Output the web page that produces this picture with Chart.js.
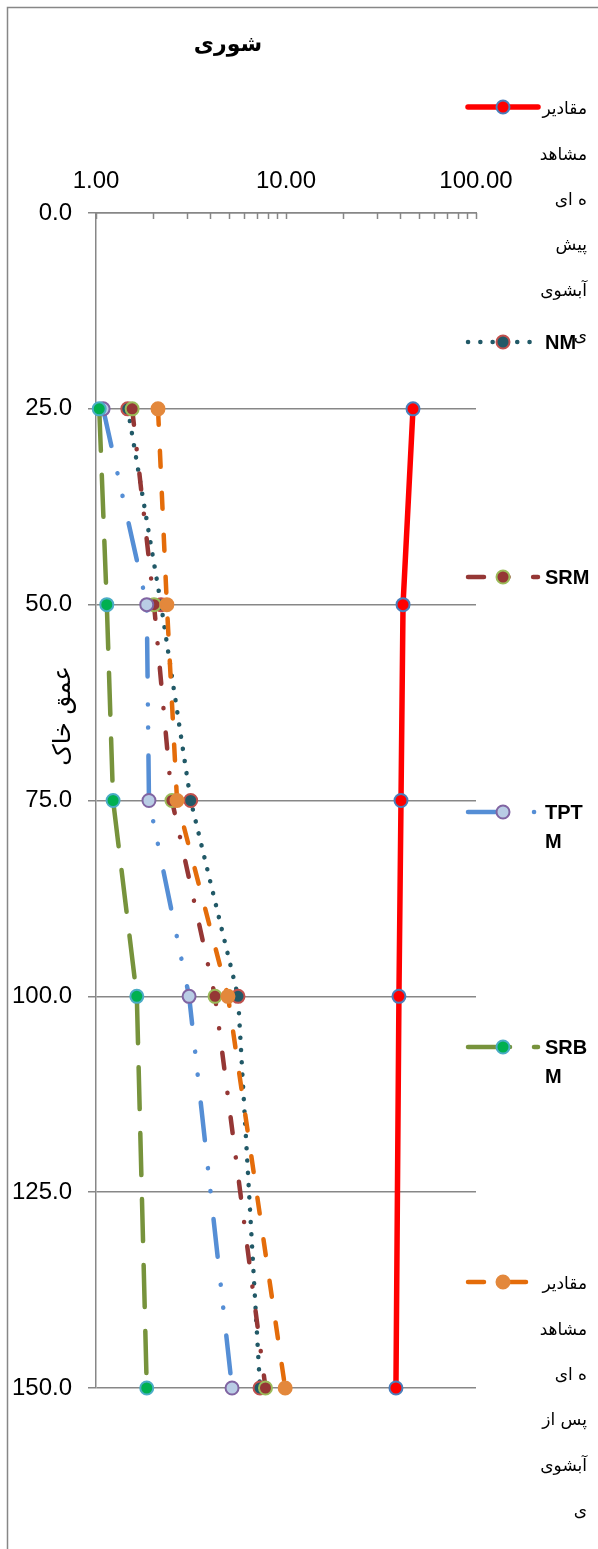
<!DOCTYPE html>
<html>
<head>
<meta charset="utf-8">
<script src="https://cdn.jsdelivr.net/npm/chart.js@4.4.0/dist/chart.umd.min.js"></script>
<style>
  html, body { margin: 0; padding: 0; background: #fff; }
  canvas { display: block; }
</style>
</head>
<body>
<canvas id="chart" width="598" height="1549"></canvas>
<script>
// soil depth (vertical axis)
const depths = [25, 50, 75, 100, 150];

// salinity per series
const preLeaching = [46.6, 41.3, 40.3, 39.3, 37.9];
const nmValues = [1.47, 2.2, 3.15, 5.59, 7.3];
const srmValues = [1.55, 2.02, 2.51, 4.23, 7.8];
const tptmValues = [1.09, 1.85, 1.9, 3.09, 5.2];
const srbmValues = [1.04, 1.14, 1.23, 1.64, 1.85];
const postLeaching = [2.12, 2.36, 2.67, 4.95, 9.9];

const seriesLabels = [
    'مقادیر مشاهده ای پیش آبشویی', 'NM', 'SRM', 'TPTM', 'SRBM',
    'مقادیر مشاهده ای پس از آبشویی'
];
// legend text as it wraps in the original
const legendLines = [
    ['مقادیر', 'مشاهد', 'ه ای', 'پیش', 'آبشوی', 'ی'],
    ['NM'],
    ['SRM'],
    ['TPT', 'M'],
    ['SRB', 'M'],
    ['مقادیر', 'مشاهد', 'ه ای', 'پس از', 'آبشوی', 'ی']
];
const xTickLabels = [1, 10, 100];
const chartTitle = 'شوری';
const yTitle = 'عمق خاک';

const axisGray = '#878787';
const persianFont = '"DejaVu Sans", "Liberation Sans", sans-serif';

function points(values) {
    return values.map((v, i) => ({ x: v, y: depths[i] }));
}

function series(i, values, style) {
    return Object.assign({
        label: seriesLabels[i],
        data: points(values),
        borderWidth: 4.5,
        borderCapStyle: 'round',
        borderJoinStyle: 'round',
        pointRadius: 6.5,
        pointBorderWidth: 2,
        tension: 0,
        clip: false,
        order: -i
    }, style);
}

const datasets = [
    series(0, preLeaching, {
        borderColor: '#FF0000', borderWidth: 5.5, borderDash: [],
        pointBackgroundColor: '#FF0000', pointBorderColor: '#4A7EBB'
    }),
    series(1, nmValues, {
        borderColor: '#215967', borderDash: [0.1, 12.2],
        pointBackgroundColor: '#215967', pointBorderColor: '#C0504D'
    }),
    series(2, srmValues, {
        borderColor: '#953735', borderDash: [16, 24.5, 0.1, 24.5],
        pointBackgroundColor: '#953735', pointBorderColor: '#9BBB59'
    }),
    series(3, tptmValues, {
        borderColor: '#558ED5', borderDash: [38, 28, 0.1, 23, 0.1, 28],
        pointBackgroundColor: '#B9CDE5', pointBorderColor: '#8064A2'
    }),
    series(4, srbmValues, {
        borderColor: '#77933C', borderDash: [42, 24],
        pointBackgroundColor: '#00B050', pointBorderColor: '#4BACC6'
    }),
    series(5, postLeaching, {
        borderColor: '#E46C0A', borderDash: [16, 26],
        pointBackgroundColor: '#E3883C', pointBorderColor: '#E3883C'
    })
];

// --- plugins: frame, titles, inner minor ticks, side legend ---
const framePlugin = {
    id: 'frame',
    beforeDraw(chart) {
        const ctx = chart.ctx;
        ctx.save();
        ctx.fillStyle = '#fff';
        ctx.fillRect(0, 0, chart.width, chart.height);
        ctx.strokeStyle = axisGray;
        ctx.lineWidth = 1.5;
        ctx.strokeRect(7.5, 7.5, chart.width + 40, chart.height + 40);
        ctx.restore();
    }
};

const minorTicksPlugin = {
    id: 'minorTicks',
    afterDatasetsDraw(chart) {
        const ctx = chart.ctx;
        const x = chart.scales.x;
        ctx.save();
        ctx.strokeStyle = axisGray;
        ctx.lineWidth = 1.5;
        x.ticks.forEach(t => {
            const px = Math.round(x.getPixelForValue(t.value)) + 0.5;
            ctx.beginPath();
            ctx.moveTo(px, x.bottom);
            ctx.lineTo(px, x.bottom + 6);
            ctx.stroke();
        });
        ctx.restore();
    }
};

const titlesPlugin = {
    id: 'titles',
    afterDraw(chart) {
        const ctx = chart.ctx;
        ctx.save();
        ctx.fillStyle = '#000';
        ctx.textAlign = 'center';
        ctx.textBaseline = 'middle';
        ctx.font = 'bold 22px ' + persianFont;
        ctx.fillText(chartTitle, 228, 45);
        ctx.translate(64, 716);
        ctx.rotate(-Math.PI / 2);
        ctx.font = '24px ' + persianFont;
        ctx.fillText(yTitle, 0, 0);
        ctx.restore();
    }
};

const sideLegendPlugin = {
    id: 'sideLegend',
    afterDraw(chart) {
        const ctx = chart.ctx;
        const top = 107, step = 235;
        chart.data.datasets.forEach((ds, i) => {
            const y = top + i * step;
            ctx.save();
            ctx.strokeStyle = ds.borderColor;
            ctx.lineWidth = ds.borderWidth;
            ctx.lineCap = ds.borderCapStyle;
            ctx.setLineDash(ds.borderDash || []);
            ctx.beginPath();
            ctx.moveTo(468, y);
            ctx.lineTo(538, y);
            ctx.stroke();
            ctx.setLineDash([]);
            ctx.beginPath();
            ctx.arc(503, y, ds.pointRadius, 0, Math.PI * 2);
            ctx.fillStyle = ds.pointBackgroundColor;
            ctx.fill();
            ctx.lineWidth = ds.pointBorderWidth;
            ctx.strokeStyle = ds.pointBorderColor;
            ctx.stroke();

            const lines = legendLines[i];
            const latin = /^[A-Za-z]/.test(lines[0]);
            ctx.fillStyle = '#000';
            ctx.textBaseline = 'middle';
            if (latin) {
                ctx.font = 'bold 20px "Liberation Sans", sans-serif';
                ctx.textAlign = 'left';
                lines.forEach((l, k) => ctx.fillText(l, 545, y + 1 + k * 29));
            } else {
                ctx.font = '17px ' + persianFont;
                ctx.textAlign = 'right';
                lines.forEach((l, k) => ctx.fillText(l, 587, y + 3 + k * 45.3));
            }
            ctx.restore();
        });
    }
};

new Chart(document.getElementById('chart'), {
    type: 'line',
    data: { datasets: datasets },
    plugins: [framePlugin, minorTicksPlugin, titlesPlugin, sideLegendPlugin],
    options: {
        responsive: false,
        animation: false,
        devicePixelRatio: 1,
        layout: { padding: { left: 0, top: 0, right: 122, bottom: 161 } },
        plugins: {
            legend: { display: false },
            title: { display: false },
            tooltip: { enabled: false }
        },
        scales: {
            x: {
                type: 'logarithmic',
                position: 'top',
                min: 1,
                max: 100,
                afterFit: s => { s.height = 213; },
                afterBuildTicks: s => {
                    const ticks = [];
                    for (let d = 1; d < 100; d *= 10) {
                        for (let m = 1; m < 10; m++) ticks.push({ value: m * d });
                    }
                    ticks.push({ value: 100 });
                    s.ticks = ticks;
                },
                grid: { display: true, drawOnChartArea: false, drawTicks: false },
                border: { display: true, color: axisGray, width: 1.5 },
                ticks: {
                    autoSkip: false,
                    maxRotation: 0,
                    padding: 17,
                    color: '#000',
                    font: { family: '"Liberation Sans", sans-serif', size: 24 },
                    callback: v => xTickLabels.some(t => Math.abs(t - v) < 1e-9) ? Number(v).toFixed(2) : ''
                }
            },
            y: {
                type: 'linear',
                reverse: true,
                min: 0,
                max: 150,
                afterFit: s => { s.width = 96; },
                grid: { color: axisGray, lineWidth: 1.5, tickLength: 8 },
                border: { display: true, color: axisGray, width: 1.5 },
                ticks: {
                    stepSize: 25,
                    padding: 16,
                    color: '#000',
                    font: { family: '"Liberation Sans", sans-serif', size: 24 },
                    callback: v => Number(v).toFixed(1)
                }
            }
        }
    }
});
</script>
</body>
</html>
